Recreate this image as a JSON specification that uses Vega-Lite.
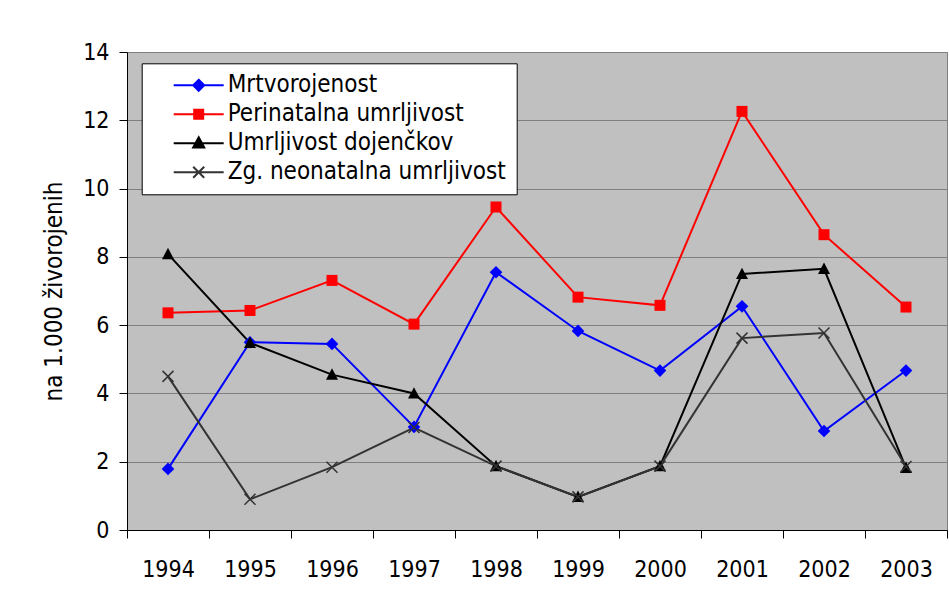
{
  "$schema": "https://vega.github.io/schema/vega-lite/v6.json",
  "width": 820,
  "height": 478,
  "autosize": {"type": "none"},
  "padding": {"left": 127, "top": 52, "right": 2, "bottom": 72},
  "background": "white",
  "config": {
    "font": "DejaVu Sans Condensed, DejaVu Sans",
    "view": {"fill": "#C0C0C0", "stroke": "#808080", "strokeWidth": 1},
    "axis": {
      "labelFont": "DejaVu Sans Condensed, DejaVu Sans",
      "titleFont": "DejaVu Sans Condensed, DejaVu Sans",
      "labelFontSize": 23,
      "titleFontSize": 24,
      "titleFontWeight": "normal",
      "labelColor": "black",
      "titleColor": "black",
      "domainColor": "black",
      "tickColor": "black",
      "domainWidth": 1,
      "tickWidth": 1,
      "tickSize": 8
    },
    "legend": {
      "labelFont": "DejaVu Sans Condensed, DejaVu Sans",
      "labelFontSize": 24,
      "labelColor": "black",
      "labelLimit": 600,
      "orient": "none",
      "legendX": 14.7,
      "legendY": 11.3,
      "fillColor": "white",
      "strokeColor": "black",
      "padding": 10,
      "rowPadding": 5,
      "symbolSize": 400,
      "symbolStrokeWidth": 2,
      "symbolOpacity": 1,
      "labelOffset": 52
    }
  },
  "data": {
    "values": [
      {"leto": "1994", "serija": "Mrtvorojenost", "vrednost": 1.79},
      {"leto": "1995", "serija": "Mrtvorojenost", "vrednost": 5.5},
      {"leto": "1996", "serija": "Mrtvorojenost", "vrednost": 5.45},
      {"leto": "1997", "serija": "Mrtvorojenost", "vrednost": 3.02},
      {"leto": "1998", "serija": "Mrtvorojenost", "vrednost": 7.55},
      {"leto": "1999", "serija": "Mrtvorojenost", "vrednost": 5.83},
      {"leto": "2000", "serija": "Mrtvorojenost", "vrednost": 4.67},
      {"leto": "2001", "serija": "Mrtvorojenost", "vrednost": 6.55},
      {"leto": "2002", "serija": "Mrtvorojenost", "vrednost": 2.9},
      {"leto": "2003", "serija": "Mrtvorojenost", "vrednost": 4.67},
      {"leto": "1994", "serija": "Perinatalna umrljivost", "vrednost": 6.36},
      {"leto": "1995", "serija": "Perinatalna umrljivost", "vrednost": 6.43},
      {"leto": "1996", "serija": "Perinatalna umrljivost", "vrednost": 7.31},
      {"leto": "1997", "serija": "Perinatalna umrljivost", "vrednost": 6.03},
      {"leto": "1998", "serija": "Perinatalna umrljivost", "vrednost": 9.46},
      {"leto": "1999", "serija": "Perinatalna umrljivost", "vrednost": 6.82},
      {"leto": "2000", "serija": "Perinatalna umrljivost", "vrednost": 6.58},
      {"leto": "2001", "serija": "Perinatalna umrljivost", "vrednost": 12.26},
      {"leto": "2002", "serija": "Perinatalna umrljivost", "vrednost": 8.65},
      {"leto": "2003", "serija": "Perinatalna umrljivost", "vrednost": 6.53},
      {"leto": "1994", "serija": "Umrljivost dojenčkov", "vrednost": 8.08},
      {"leto": "1995", "serija": "Umrljivost dojenčkov", "vrednost": 5.48},
      {"leto": "1996", "serija": "Umrljivost dojenčkov", "vrednost": 4.55},
      {"leto": "1997", "serija": "Umrljivost dojenčkov", "vrednost": 4.0},
      {"leto": "1998", "serija": "Umrljivost dojenčkov", "vrednost": 1.87},
      {"leto": "1999", "serija": "Umrljivost dojenčkov", "vrednost": 0.97},
      {"leto": "2000", "serija": "Umrljivost dojenčkov", "vrednost": 1.87},
      {"leto": "2001", "serija": "Umrljivost dojenčkov", "vrednost": 7.5},
      {"leto": "2002", "serija": "Umrljivost dojenčkov", "vrednost": 7.65},
      {"leto": "2003", "serija": "Umrljivost dojenčkov", "vrednost": 1.82},
      {"leto": "1994", "serija": "Zg. neonatalna umrljivost", "vrednost": 4.5},
      {"leto": "1995", "serija": "Zg. neonatalna umrljivost", "vrednost": 0.9},
      {"leto": "1996", "serija": "Zg. neonatalna umrljivost", "vrednost": 1.84},
      {"leto": "1997", "serija": "Zg. neonatalna umrljivost", "vrednost": 3.0},
      {"leto": "1998", "serija": "Zg. neonatalna umrljivost", "vrednost": 1.87},
      {"leto": "1999", "serija": "Zg. neonatalna umrljivost", "vrednost": 0.97},
      {"leto": "2000", "serija": "Zg. neonatalna umrljivost", "vrednost": 1.87},
      {"leto": "2001", "serija": "Zg. neonatalna umrljivost", "vrednost": 5.62},
      {"leto": "2002", "serija": "Zg. neonatalna umrljivost", "vrednost": 5.77},
      {"leto": "2003", "serija": "Zg. neonatalna umrljivost", "vrednost": 1.86}
    ]
  },
  "encoding": {
    "x": {
      "field": "leto",
      "type": "ordinal",
      "bandPosition": 0.5,
      "scale": {"type": "band", "paddingInner": 0, "paddingOuter": 0},
      "axis": {
        "title": null,
        "labelAngle": 0,
        "grid": false,
        "tickBand": "extent",
        "labelPadding": 20
      }
    },
    "y": {
      "field": "vrednost",
      "type": "quantitative",
      "scale": {"domain": [0, 14], "nice": false, "zero": true},
      "axis": {
        "title": "na 1.000 živorojenih",
        "values": [0, 2, 4, 6, 8, 10, 12, 14],
        "grid": true,
        "gridColor": "#808080",
        "gridWidth": 1,
        "labelPadding": 10,
        "titlePadding": 16
      }
    },
    "color": {
      "field": "serija",
      "type": "nominal",
      "scale": {
        "domain": ["Mrtvorojenost", "Perinatalna umrljivost", "Umrljivost dojenčkov", "Zg. neonatalna umrljivost"],
        "range": ["#0000FF", "#FF0000", "#000000", "#333333"]
      },
      "legend": {"title": null, "labelExpr": "datum.label + '\u00a0'"}
    }
  },
  "layer": [
    {
      "mark": {"type": "line", "strokeWidth": 2},
      "encoding": {}
    },
    {
      "transform": [{"filter": "datum.serija === 'Mrtvorojenost'"}],
      "mark": {"type": "point", "filled": true, "opacity": 1, "shape": "diamond", "size": 160},
      "encoding": {}
    },
    {
      "transform": [{"filter": "datum.serija === 'Perinatalna umrljivost'"}],
      "mark": {"type": "point", "filled": true, "opacity": 1, "shape": "square", "size": 121},
      "encoding": {}
    },
    {
      "transform": [{"filter": "datum.serija === 'Umrljivost dojenčkov'"}],
      "mark": {"type": "point", "filled": true, "opacity": 1, "shape": "M0,-1.05L1,0.85H-1Z", "size": 144},
      "encoding": {}
    },
    {
      "transform": [{"filter": "datum.serija === 'Zg. neonatalna umrljivost'"}],
      "mark": {"type": "point", "filled": false, "opacity": 1, "shape": "M-1,-1L1,1M-1,1L1,-1", "size": 121, "strokeWidth": 1.5},
      "encoding": {}
    },
    {
      "transform": [{"filter": "false"}],
      "mark": {"type": "point", "filled": true, "opacity": 1},
      "encoding": {
        "shape": {
          "field": "serija",
          "type": "nominal",
          "scale": {
            "domain": ["Mrtvorojenost", "Perinatalna umrljivost", "Umrljivost dojenčkov", "Zg. neonatalna umrljivost"],
            "range": [
              "M1,0H6M3.5,-0.55L4.05,0L3.5,0.55L2.95,0Z",
              "M1,0H6M3.05,-0.45H3.95V0.45H3.05Z",
              "M1,0H6M3.5,-0.6L4.05,0.42H2.95Z",
              "M1,0H6M2.95,-0.55L4.05,0.55M2.95,0.55L4.05,-0.55"
            ]
          },
          "legend": {"title": null, "labelExpr": "datum.label + '\u00a0'"}
        },
        "stroke": {
          "field": "serija",
          "type": "nominal",
          "scale": {
            "domain": ["Mrtvorojenost", "Perinatalna umrljivost", "Umrljivost dojenčkov", "Zg. neonatalna umrljivost"],
            "range": ["#0000FF", "#FF0000", "#000000", "#333333"]
          },
          "legend": {"title": null, "labelExpr": "datum.label + '\u00a0'"}
        }
      }
    }
  ]
}
